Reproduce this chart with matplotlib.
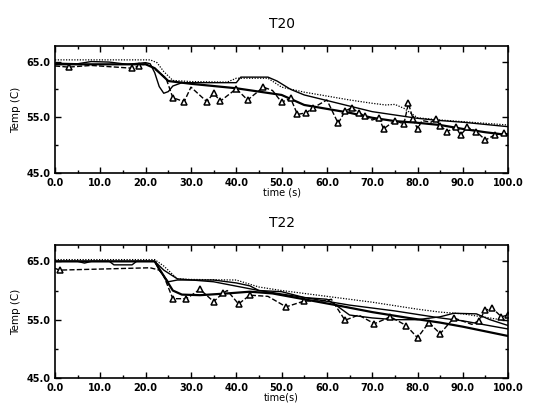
""" Two-panel temperature history (T20, T22): model curves vs measured data. """

import numpy as np
import matplotlib.pyplot as plt
from matplotlib.ticker import MultipleLocator, FixedLocator, FormatStrFormatter

# ---- T20 ----
t20_dot_x = [0, 21, 22.5, 24, 26, 30, 38, 40, 47, 50, 55, 60, 65, 70, 73, 75, 77, 80, 85, 90, 95, 100]
t20_dot_y = [65.3, 65.3, 64.8, 63.2, 61.6, 61.4, 61.3, 62.0, 62.0, 60.4, 59.5, 58.8, 58.1, 57.5, 57.2, 57.3, 56.6, 54.9, 54.5, 54.2, 53.9, 53.6]

t20_loop_x = [0, 5, 8, 12, 16, 20, 21, 22, 23, 24, 25, 26, 28, 35, 40, 41, 47, 49, 52, 55, 60, 65, 70, 75, 80, 85, 90, 95, 100]
t20_loop_y = [64.7, 64.6, 65.0, 64.9, 64.5, 64.8, 64.6, 63.0, 60.5, 59.3, 59.6, 60.6, 61.2, 61.2, 61.2, 62.2, 62.2, 61.5, 60.0, 59.0, 58.0, 57.0, 56.0, 55.4, 54.8, 54.4, 54.1, 53.7, 53.3]

t20_thick_x = [0, 20, 22, 25, 30, 40, 50, 55, 60, 65, 70, 75, 80, 85, 90, 95, 100]
t20_thick_y = [64.5, 64.5, 63.8, 61.5, 61.0, 60.2, 59.0, 57.2, 56.5, 55.8, 54.9, 54.3, 54.0, 53.6, 52.9, 52.3, 51.8]

t20_tri_x = [0, 3, 8, 17, 18.5, 20, 21.5, 23, 24.5, 26, 28.5, 30, 33.5, 35, 36.5, 40, 42.5, 46, 48, 50,
             52, 53.5, 55.5, 57, 60, 62.5, 64, 65.5, 67, 68.5, 70, 71.5, 72.5, 75, 77, 78, 79, 80,
             81, 83, 84, 85, 86.5, 88.5, 89.5, 91, 93, 95, 97, 99, 100]
t20_tri_y = [64.2, 64.0, 64.3, 63.8, 64.2, 64.6, 64.0, 63.0, 62.0, 58.5, 57.8, 60.4, 57.8, 59.3, 57.9, 60.1, 58.1, 60.4, 59.8, 57.7,
             58.4, 55.5, 55.8, 56.7, 58.1, 53.9, 56.1, 56.7, 55.8, 55.2, 54.5, 54.9, 52.9, 54.4, 53.8, 57.5, 54.7, 52.9,
             54.4, 54.1, 54.7, 53.5, 52.4, 53.2, 51.8, 53.2, 52.4, 50.9, 51.8, 52.1, 52.0]
t20_marks = [1, 3, 4, 9, 10, 12, 13, 14, 15, 16, 17, 19, 20, 21, 22, 23, 25, 26, 27, 28, 29, 31, 32, 33, 34,
             35, 36, 37, 40, 41, 42, 43, 44, 45, 46, 47, 48, 49]

# ---- T22 ----
t22_dot_x = [0, 22, 24, 27, 30, 40, 45, 50, 60, 70, 80, 85, 90, 100]
t22_dot_y = [65.3, 65.3, 64.2, 62.0, 61.9, 61.8, 60.6, 60.0, 59.0, 58.0, 56.8, 56.3, 56.0, 54.8]

t22_top_x = [0, 5, 6.5, 8, 12, 13, 17, 18, 22, 23, 24, 25, 27, 35, 40, 43, 45, 50, 55, 60, 62, 65, 70, 75, 80, 85, 88, 93, 96, 100]
t22_top_y = [65.0, 65.0, 64.7, 65.0, 65.0, 64.4, 64.4, 65.0, 65.0, 63.5, 62.5, 61.5, 61.8, 61.8, 61.3, 60.8, 60.0, 59.8, 58.8, 58.5, 57.5, 55.8, 55.3, 55.0, 55.0, 55.5, 56.1, 56.0, 55.0, 54.0]

t22_mid_x = [0, 22, 24, 27, 35, 45, 55, 65, 75, 85, 90, 100]
t22_mid_y = [65.0, 65.0, 63.5, 62.0, 61.5, 60.0, 58.8, 57.5, 56.5, 55.3, 54.8, 53.4]

t22_thick_x = [0, 22, 24, 26, 28, 32, 38, 43, 48, 55, 62, 70, 78, 85, 90, 95, 100]
t22_thick_y = [65.0, 65.0, 62.5, 60.0, 59.3, 59.2, 59.5, 59.8, 59.5, 58.5, 57.5, 56.3, 55.3, 54.5, 53.8, 53.0, 52.2]

t22_tri_x = [0, 1, 21, 23, 24, 26, 29, 32, 35, 37, 38, 40.5, 43, 47, 51, 55, 59, 61, 64, 67, 70.5, 74, 77.5,
             80, 82.5, 85, 88, 92, 93.5, 95, 96.5, 98.5, 100]
t22_tri_y = [63.8, 63.5, 63.9, 63.5, 62.5, 58.6, 58.6, 60.2, 58.1, 59.5, 60.0, 57.7, 59.2, 59.0, 57.2, 58.2, 58.2, 58.5, 54.9, 55.8, 54.3, 55.5, 54.0,
             51.9, 54.5, 52.6, 55.3, 54.2, 54.8, 56.6, 57.0, 55.5, 55.8]
t22_marks = [1, 5, 6, 7, 8, 9, 11, 12, 14, 15, 18, 20, 21, 22, 23, 24, 25, 26, 28, 29, 30, 31, 32]

panels = [
    ('T20', 'time (s)', t20_dot_x, t20_dot_y, [(t20_loop_x, t20_loop_y, 1.0), (t20_thick_x, t20_thick_y, 1.6)],
     t20_tri_x, t20_tri_y, t20_marks),
    ('T22', 'time(s)', t22_dot_x, t22_dot_y, [(t22_top_x, t22_top_y, 1.0), (t22_mid_x, t22_mid_y, 1.0),
                                              (t22_thick_x, t22_thick_y, 1.6)],
     t22_tri_x, t22_tri_y, t22_marks),
]

fig = plt.figure(figsize=(5.42, 4.03), dpi=100)
rects = [[0.1015, 0.571, 0.836, 0.315], [0.1015, 0.062, 0.836, 0.33]]

for rect, (title, xlab, dx, dy, solids, tx, ty, marks) in zip(rects, panels):
    ax = fig.add_axes(rect)
    ax.plot(dx, dy, color='black', linestyle=(0, (1, 1.2)), linewidth=0.9)
    for sx, sy, lw in solids:
        ax.plot(sx, sy, color='black', linewidth=lw)
    ax.plot(tx, ty, color='black', linestyle='--', linewidth=1.0, marker='^', markevery=marks,
            markersize=4.5, markerfacecolor='white', markeredgecolor='black', markeredgewidth=1.1)

    ax.set_xlim(0, 100)
    ax.set_ylim(45, 67.8)
    ax.xaxis.set_major_locator(MultipleLocator(10))
    ax.xaxis.set_minor_locator(MultipleLocator(5))
    ax.yaxis.set_major_locator(FixedLocator([45, 55, 65]))
    ax.yaxis.set_minor_locator(FixedLocator([50, 60]))
    ax.xaxis.set_major_formatter(FormatStrFormatter('%.1f'))
    ax.yaxis.set_major_formatter(FormatStrFormatter('%.1f'))
    ax.tick_params(which='both', direction='in', top=True, right=True, labelsize=7, width=1)
    ax.tick_params(which='major', length=4)
    ax.tick_params(which='minor', length=2)
    for lab in ax.get_xticklabels() + ax.get_yticklabels():
        lab.set_fontweight('bold')
    for sp in ax.spines.values():
        sp.set_linewidth(1.2)

    ax.set_title(title, fontsize=10, pad=13)
    ax.set_xlabel(xlab, fontsize=7, labelpad=0)
    ax.set_ylabel('Temp (C)', fontsize=7.5, labelpad=4)

plt.savefig('out.png', dpi=100)
plt.close()
